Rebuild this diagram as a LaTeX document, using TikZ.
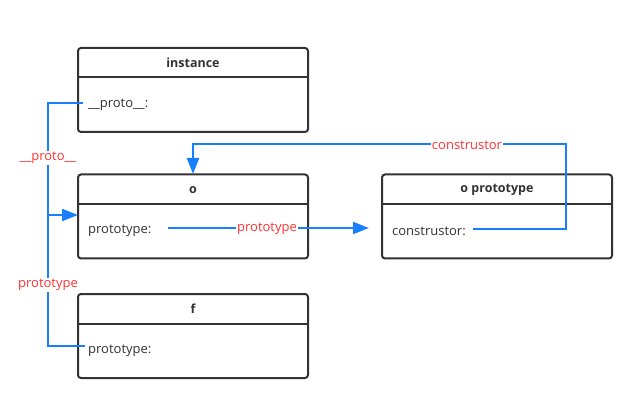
\documentclass[tikz,border=0pt]{standalone}
\usepackage{fontspec}
\setmainfont{Open Sans}
\usetikzlibrary{arrows.meta,calc}
\definecolor{edgeblue}{RGB}{24,128,255}
\definecolor{lblred}{RGB}{255,51,51}
\definecolor{boxgray}{RGB}{51,51,51}
\tikzset{
  box/.style={draw=boxgray, line width=2pt, rounded corners=3pt, minimum width=230pt, minimum height=84pt, inner sep=0pt, fill=white},
  sep/.style={draw=boxgray, line width=2pt},
  title/.style={font=\fontsize{12.5}{14}\selectfont\bfseries, text=boxgray, inner sep=0pt},
  field/.style={font=\fontsize{13}{15}\selectfont, text=boxgray, anchor=west, inner sep=0pt},
  link/.style={draw=edgeblue, line width=2pt},
  arr/.style={-{Triangle[length=16pt,width=12pt]}},
  lbl/.style={font=\fontsize{13}{15}\selectfont, text=lblred, fill=white, inner sep=1pt},
}
\begin{document}
\begin{tikzpicture}[x=1pt,y=-1pt]
\useasboundingbox (0,0) rectangle (644,411);
% boxes
\node[box] (inst) at (193,90) {};
\node[box] (o) at (193,216.5) {};
\node[box] (op) at (497,216.5) {};
\node[box] (f) at (193,336) {};
\draw[sep] (78,77.5) -- (308,77.5);
\draw[sep] (78,204) -- (308,204);
\draw[sep] (382,204) -- (612,204);
\draw[sep] (78,324) -- (308,324);
% titles
\node[title] (tinst) at (193,63) {instance};
\node[title] (to) at (193,190) {o};
\node[title] (top) at (497,190) {o prototype};
\node[title] (tf) at (193,309) {f};
% fields
\node[field] (finst) at (88,105) {\_\_proto\_\_:};
\node[field] (fo) at (88,231) {prototype:};
\node[field] (fop) at (392,231) {construstor:};
\node[field] (ff) at (88,351) {prototype:};
% connector anchors
\coordinate (s1) at (83,103);
\coordinate (s2) at (85,345.5);
\coordinate (oin) at (78,215);
\coordinate (s3) at (168,228);
\coordinate (opin) at (369,228);
\coordinate (s4) at (473,229.5);
\coordinate (otop) at (193,174);
% connectors
\draw[link,arr] (s1) -- (48,103) -- (48,215) -- (oin);
\draw[link] (s2) -- (48,345.5) -- (48,215);
\draw[link,arr] (s3) -- (opin);
\draw[link,arr] (s4) -- (566,229.5) -- (566,144) -- (193,144) -- (otop);
% labels
\node[lbl] (l1) at (48,158) {\_\_proto\_\_};
\node[lbl] (l2) at (48,285) {prototype};
\node[lbl] (l3) at (267,229) {prototype};
\node[lbl] (l4) at (467,145) {construstor};
\end{tikzpicture}
\end{document}
